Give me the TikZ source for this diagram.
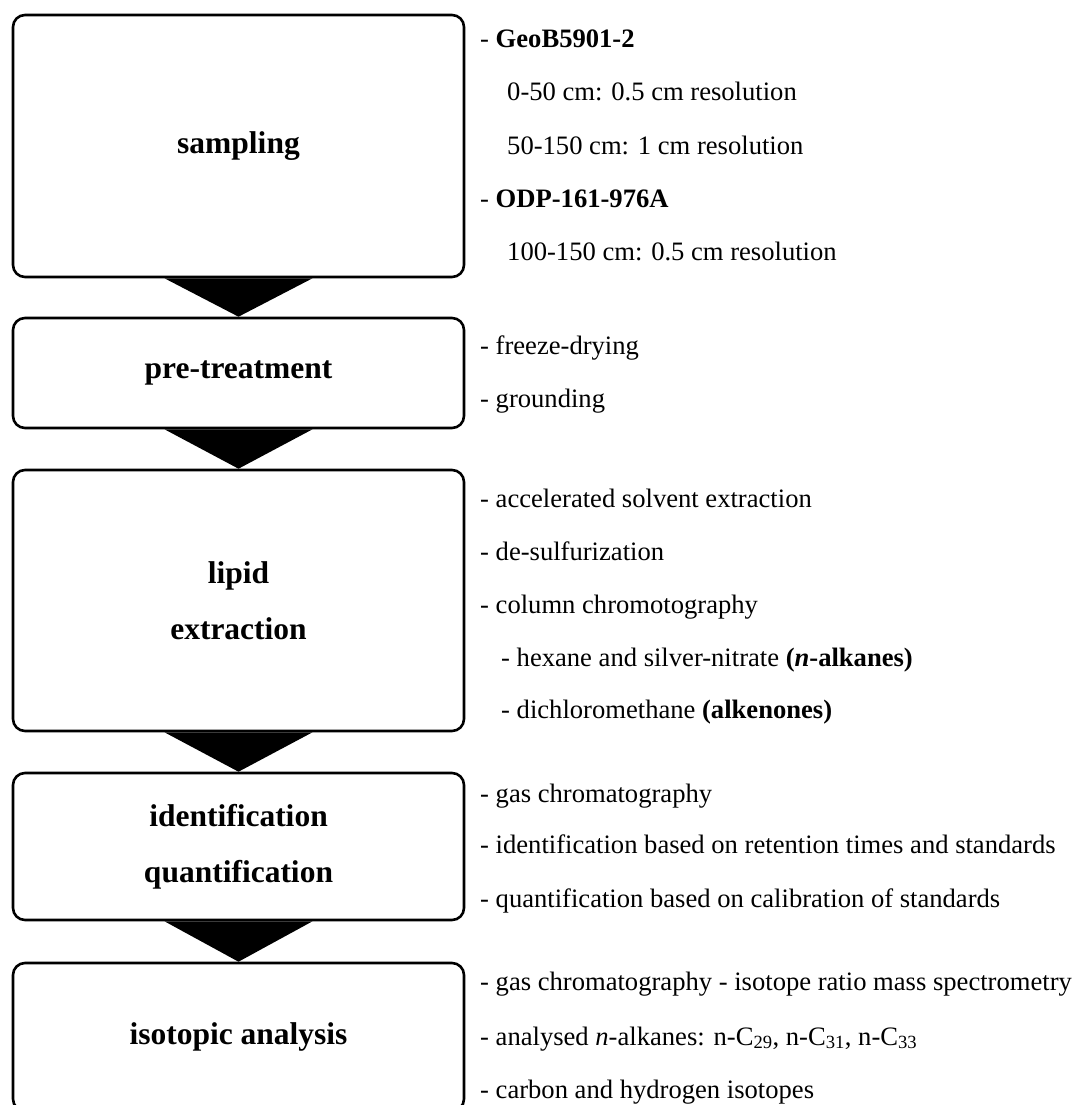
\documentclass[tikz,border=0pt]{standalone}
\usepackage{fontspec}
\setmainfont{Liberation Serif}
\tikzset{
  stepbox/.style = {draw, line width = 2.6pt, rounded corners = 12pt, minimum width = 451pt, align = center, font = \bfseries\fontsize{31.5}{56}\selectfont},
  item/.style = {anchor = base west, inner sep = 0pt, font = \fontsize{26.6}{30}\selectfont}
}
\begin{document}
\begin{tikzpicture}[x = 1pt, y = -1pt]
\useasboundingbox (0,0) rectangle (1075,1105);
\begin{scope}
\clip (0,0) rectangle (1075,1105);
\node[stepbox, minimum height = 262pt] (sampling) at (238.5,146) {sampling};
\node[stepbox, minimum height = 110pt] (pretreat) at (238.5,373) {pre-treatment};
\node[stepbox, minimum height = 261pt] (lipid) at (238.5,600.5) {lipid\\extraction};
\node[stepbox, minimum height = 147pt] (ident) at (238.5,846.5) {identification\\quantification};
\node[stepbox, minimum height = 148pt] (isotope) at (238.5,1037) {isotopic analysis};

\foreach \a/\b in {sampling/pretreat, pretreat/lipid, lipid/ident, ident/isotope}
   \fill ([xshift = -74pt]\a.south) -- ([xshift = 74pt]\a.south) -- (\b.north) -- cycle;
\end{scope}

\foreach \x/\y/\t [count = \i] in {
   480/48/{- \textbf{GeoB5901-2}},
   507/101/{0-50 cm: 0.5 cm resolution},
   507/154/{50-150 cm: 1 cm resolution},
   480/207/{- \textbf{ODP-161-976A}},
   507/260/{100-150 cm: 0.5 cm resolution},
   480/354/{- freeze-drying},
   480/407/{- grounding},
   480/507/{- accelerated solvent extraction},
   480/560/{- de-sulfurization},
   480/613/{- column chromotography},
   501/666/{- hexane and silver-nitrate \textbf{(\textit{n}-alkanes)}},
   501/718/{- dichloromethane \textbf{(alkenones)}},
   480/802/{- gas chromatography},
   480/853/{- identification based on retention times and standards},
   480/907/{- quantification based on calibration of standards},
   480/990/{- gas chromatography - isotope ratio mass spectrometry},
   480/1045/{- analysed \textit{n}-alkanes: n-C\textsubscript{29}, n-C\textsubscript{31}, n-C\textsubscript{33}},
   480/1098/{- carbon and hydrogen isotopes}}
   \node[item] (item\i) at (\x,\y) {\t};

\end{tikzpicture}
\end{document}
